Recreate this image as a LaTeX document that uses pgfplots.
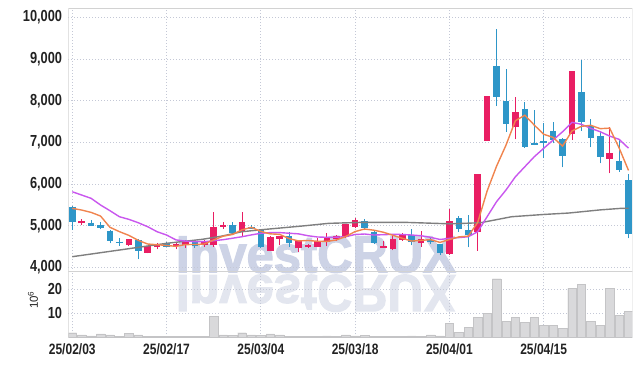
\documentclass[border=0pt]{standalone}
\usepackage{pgfplots}
\pgfplotsset{compat=1.18}
\usepackage{pgfplotstable}
\usepackage{fontspec}
\setmainfont{Liberation Sans}
\newfontfamily\tickfont{Liberation Sans Bold}[FakeStretch=0.8]
\newfontfamily\wmfont{Liberation Sans Bold}[FakeBold=2.5]

\definecolor{upc}{HTML}{E91E63}
\definecolor{dnc}{HTML}{2E96C8}
\definecolor{ma5}{HTML}{F0844E}
\definecolor{ma20}{HTML}{C957EE}
\definecolor{ma60}{HTML}{7F7F7F}
\definecolor{gridc}{HTML}{C4C8D6}
\definecolor{framec}{HTML}{D2D2D2}
\definecolor{volc}{HTML}{D9D9DB}
\definecolor{volb}{HTML}{C4C4C6}
\definecolor{wm}{HTML}{CDD3E6}
\definecolor{wm2}{HTML}{E3E6EF}
\definecolor{txt}{HTML}{222222}

\pgfplotstableread{
i o h l c
1 5057 5160 5016 5120
6 4537 4680 4513 4674
8 4353 4520 4338 4513
9 4496 4592 4434 4553
11 4513 4592 4434 4561
12 4537 4657 4473 4617
14 4537 4657 4496 4617
15 4537 5321 4496 4976
16 4976 5090 4930 5017
18 4856 5321 4753 5081
21 4400 4760 4395 4730
22 4688 4760 4537 4753
24 4458 4640 4376 4633
25 4482 4560 4470 4537
26 4496 4700 4490 4633
27 4617 4818 4513 4736
28 4688 4780 4640 4753
29 4722 5041 4710 5041
30 4976 5192 4938 5137
33 4473 4633 4460 4513
34 4441 4770 4410 4674
35 4657 4830 4640 4777
37 4592 4880 4500 4674
40 4320 5410 4300 5120
43 4856 6240 4400 6240
44 7038 8110 7038 8110
47 7374 8080 7072 7720
53 7200 8710 7055 8710
57 6607 7374 6256 6736
}\updata

\pgfplotstableread{
i o h l c
0 5456 5470 4897 5096
2 5072 5137 4990 5000
3 5017 5090 4920 4952
4 4880 4895 4578 4640
5 4616 4698 4520 4578
7 4657 4670 4194 4400
10 4592 4600 4480 4496
13 4617 4657 4473 4520
17 5017 5096 4777 4818
19 4976 5010 4930 4914
20 4897 4930 4470 4480
23 4753 4856 4497 4578
31 5113 5160 4890 4938
32 4856 4897 4560 4592
36 4777 4921 4530 4602
38 4657 4720 4560 4609
39 4553 4570 4297 4338
41 5177 5240 4850 4913
42 4897 5257 4482 4777
45 8830 9710 7870 8094
46 7990 8750 7254 7432
48 7800 7974 6870 6895
49 6975 7775 6935 6935
50 7030 7470 6616 6990
51 7270 7494 6975 7055
52 7080 7100 6400 6671
54 8200 8973 7278 7494
55 7398 7550 6880 7110
56 7150 7250 6496 6654
58 6550 7055 6295 6335
59 6096 6233 4698 4793
}\dndata

\pgfplotstableread{
i m
0 5417
1 5376
2 5320
3 5232
4 4962
5 4858
6 4769
7 4649
8 4561
9 4544
10 4527
11 4505
12 4548
13 4549
14 4562
15 4658
16 4749
17 4790
18 4902
19 4961
20 4862
21 4805
22 4792
23 4691
24 4635
25 4646
26 4627
27 4623
28 4658
29 4740
30 4860
31 4921
32 4892
33 4844
34 4771
35 4699
36 4632
37 4648
38 4667
39 4600
40 4669
41 4731
42 4751
43 5078
44 5832
45 6427
46 6931
47 7519
48 7650
49 7415
50 7194
51 7119
52 6909
53 7272
54 7384
55 7408
56 7328
57 7341
58 6866
59 6326
}\mafive

\pgfplotstableread{
i m
0 5815
1 5736
2 5657
3 5497
4 5360
5 5216
6 5153
7 5072
8 4976
9 4856
10 4777
11 4660
12 4630
13 4617
14 4617
15 4640
16 4665
17 4700
18 4736
19 4780
20 4818
21 4835
22 4835
23 4820
24 4805
25 4760
26 4730
27 4722
28 4725
29 4736
30 4790
31 4801
32 4777
33 4785
34 4793
35 4790
36 4777
37 4760
38 4722
39 4670
40 4697
41 4715
42 4736
43 4856
44 5216
45 5576
46 5856
47 6175
48 6415
49 6655
50 6856
51 7055
52 7254
53 7480
54 7432
55 7336
56 7254
57 7150
58 7072
59 6860
}\matwenty

\pgfplotstableread{
i m
0 4257
5 4417
10 4578
13.8 4674
15.9 4753
18 4856
20.1 4905
24.4 4993
27.2 5057
30.8 5081
35.3 5081
40.1 5045
43.3 5072
44.8 5137
46.6 5216
50 5270
52.7 5305
56 5380
58.1 5415
59 5420
}\masixty

\pgfplotstableread{
i v
0 1.9
1 1.0
2 0.6
3 1.4
4 1.0
5 0.3
6 1.6
7 1.0
8 0.3
9 0.3
10 0.3
11 0.3
12 0.3
13 0.3
14 0.4
15 8.8
16 1.0
17 0.8
18 1.9
19 1.0
20 0.8
21 1.4
22 1.0
23 0.5
24 0.3
25 0.3
26 0.3
27 0.6
28 0.4
29 1.0
30 0.6
31 0.8
32 0.3
33 0.3
34 0.5
35 0.4
36 0.6
37 0.5
38 1.0
39 0.6
40 5.8
41 2.1
42 4.2
43 8.3
44 10.0
45 24.4
46 6.7
47 8.3
48 6.3
49 8.3
50 5.0
51 5.0
52 3.8
53 20.4
54 22.1
55 6.7
56 5.0
57 20.4
58 9.2
59 10.8
}\voldata

\pgfplotsset{
  common/.style={
    scale only axis, width=564pt,
    xmin=-0.42, xmax=59.4,
    axis line style={draw=none},
    major tick length=0pt,
    grid=major,
    major grid style={gridc, line width=0.7pt, dash pattern=on 1pt off 2pt},
    xtick={0,10,20,30,40,50},
    scaled y ticks=false,
    /pgf/number format/1000 sep={,},
    /pgf/number format/assume math mode=true,
    yticklabel style={font=\tickfont\fontsize{16}{16}\selectfont, text=txt, inner sep=0pt, xshift=-6pt},
    xticklabel style={font=\tickfont\fontsize{15}{15}\selectfont, text=txt, inner sep=0pt, yshift=-6pt},
  }
}

\begin{document}
\begin{tikzpicture}
\useasboundingbox (-68.3pt,-28.7pt) rectangle (573.7pt,337.3pt);
% watermark and its reflection
\node[anchor=base west, inner sep=0pt, text=wm, font=\wmfont\fontsize{52}{52}\selectfont, xscale=0.94] at (107.5pt,65pt) {InvestCRUX};
\node[anchor=base west, inner sep=0pt, text=wm2, font=\wmfont\fontsize{52}{52}\selectfont, xscale=0.94, yscale=-1] at (107.5pt,62pt) {InvestCRUX};

% volume panel
\begin{axis}[common,
  at={(0pt,0pt)}, anchor=south west, height=65.3pt,
  ymin=0, ymax=27.2, ytick={10,20},
  xticklabels={25/02/03,25/02/17,25/03/04,25/03/18,25/04/01,25/04/15},
]
\addplot[ybar, bar width=0.9, fill=volc, draw=volb, line width=0.4pt] table[x=i, y=v] {\voldata};
\draw[framec, line width=1pt] (rel axis cs:0,0) -- (rel axis cs:0,1) -- (rel axis cs:1,1) -- (rel axis cs:1,0);
\end{axis}
\node[rotate=90, inner sep=0pt, text=txt, font=\fontsize{11.5}{11.5}\selectfont] at (-35.3pt,37.3pt) {10\textsuperscript{6}};

% price panel
\begin{axis}[common,
  at={(0pt,65.3pt)}, anchor=south west, height=263pt,
  ymin=3890, ymax=10199, ytick={4000,5000,...,10000},
  xticklabels={},
]
\addplot[draw=upc, line width=0.9pt, quiver={u=0, v=\thisrow{h}-\thisrow{l}}] table[x=i, y=l] {\updata};
\addplot[draw=dnc, line width=0.9pt, quiver={u=0, v=\thisrow{h}-\thisrow{l}}] table[x=i, y=l] {\dndata};
\addplot[draw=upc, line width=6.6pt, quiver={u=0, v=\thisrow{c}-\thisrow{o}}] table[x=i, y=o] {\updata};
\addplot[draw=dnc, line width=6.6pt, quiver={u=0, v=\thisrow{c}-\thisrow{o}}] table[x=i, y=o] {\dndata};
\addplot[ma60, line width=1.4pt, no marks] table[x=i, y=m] {\masixty};
\addplot[ma20, line width=1.4pt, no marks] table[x=i, y=m] {\matwenty};
\addplot[ma5, line width=1.4pt, no marks] table[x=i, y=m] {\mafive};
\draw[framec, line width=1pt] (rel axis cs:0,0) -- (rel axis cs:0,1) -- (rel axis cs:1,1) -- (rel axis cs:1,0) -- cycle;
\end{axis}
\end{tikzpicture}
\end{document}
